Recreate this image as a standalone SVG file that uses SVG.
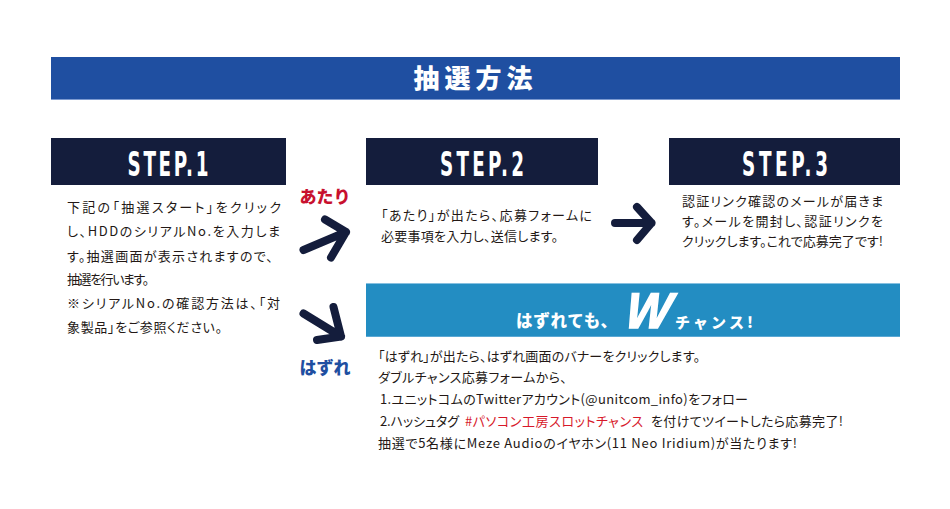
<svg xmlns="http://www.w3.org/2000/svg" width="950" height="509" viewBox="0 0 950 509">
<style>
.jp{font-family:"Noto Sans CJK JP","Noto Sans",sans-serif;}
.body{font-family:"Noto Sans CJK JP","Noto Sans",sans-serif;font-size:13px;fill:#231815;font-feature-settings:"palt";}
.step{fill:#141d3c;}
.steptxt{font-family:"DejaVu Sans Condensed","DejaVu Sans",sans-serif;font-weight:bold;font-size:34px;fill:#ffffff;text-anchor:middle;}
.arrow{fill:none;stroke:#141d3c;stroke-width:8;stroke-linecap:round;stroke-linejoin:round;}
</style>
<rect width="950" height="509" fill="#ffffff"/>
<g id="title">
<rect x="51" y="57" width="849" height="43" fill="#1f4fa1"/>
<rect x="51" y="99" width="849" height="1" fill="#7d9ad0"/>
<text x="475.5" y="88" class="jp" font-size="26" font-weight="900" fill="#ffffff" text-anchor="middle" letter-spacing="5">抽選方法</text>
</g>
<g id="step1">
<rect class="step" x="51" y="138" width="235" height="47"/>
<text class="steptxt" transform="translate(168,176) scale(0.6,1)" textLength="135" lengthAdjust="spacing">STEP.1</text>
<text class="body" x="67" y="212" textLength="214" lengthAdjust="spacing">下記の「抽選スタート」をクリック</text>
<text class="body" x="67" y="236" textLength="213" lengthAdjust="spacing">し、HDDのシリアルNo.を入力しま</text>
<text class="body" x="67" y="261" textLength="206" lengthAdjust="spacing">す。抽選画面が表示されますので、</text>
<text class="body" x="67" y="284" textLength="82" lengthAdjust="spacing">抽選を行います。</text>
<text class="body" x="67" y="308" textLength="213" lengthAdjust="spacing">※シリアルNo.の確認方法は、「対</text>
<text class="body" x="67" y="332" textLength="155" lengthAdjust="spacing">象製品」をご参照ください。</text>
</g>
<g id="step2">
<rect class="step" x="366" y="138" width="232" height="47"/>
<text class="steptxt" transform="translate(482,176) scale(0.6,1)" textLength="140" lengthAdjust="spacing">STEP.2</text>
<text class="body" x="381" y="220" textLength="211" lengthAdjust="spacing">「あたり」が出たら、応募フォームに</text>
<text class="body" x="381" y="241" textLength="177" lengthAdjust="spacing">必要事項を入力し、送信します。</text>
</g>
<g id="step3">
<rect class="step" x="669" y="138" width="231" height="47"/>
<text class="steptxt" transform="translate(785,176) scale(0.6,1)" textLength="143" lengthAdjust="spacing">STEP.3</text>
<text class="body" x="682" y="206" textLength="201" lengthAdjust="spacing">認証リンク確認のメールが届きま</text>
<text class="body" x="682" y="226" textLength="201" lengthAdjust="spacing">す。メールを開封し、認証リンクを</text>
<text class="body" x="682" y="246" textLength="201" lengthAdjust="spacing">クリックします。これで応募完了です!</text>
</g>
<g id="label-atari">
<text x="325" y="203" class="jp" font-size="17" font-weight="900" fill="#c8102e" text-anchor="middle">あたり</text>
</g>
<g id="label-hazure">
<text x="325" y="374" class="jp" font-size="17" font-weight="900" fill="#1f4fa1" text-anchor="middle">はずれ</text>
</g>
<g id="wchance">
<rect x="366" y="283" width="534" height="54" fill="#238dc2"/>
<rect x="366" y="283" width="534" height="1" fill="#86c0e0"/>
<rect x="366" y="336" width="534" height="1" fill="#5aa8d4"/>
<text x="516" y="327" class="jp" font-size="16.5" font-weight="900" fill="#ffffff" textLength="101" lengthAdjust="spacing">はずれても、</text>
<text transform="translate(624,328) skewX(-8)" font-family="'Liberation Sans',Arial,sans-serif" font-size="50" font-weight="900" font-style="italic" fill="#ffffff" stroke="#ffffff" stroke-width="1.5" textLength="45" lengthAdjust="spacingAndGlyphs">W</text>
<text x="675" y="328" class="jp" font-size="15" font-weight="900" fill="#ffffff" textLength="78" lengthAdjust="spacing">チャンス!</text>
</g>
<g id="hazure-text">
<text class="body" x="378" y="361" textLength="322" lengthAdjust="spacing">「はずれ」が出たら、はずれ画面のバナーをクリックします。</text>
<text class="body" x="378" y="382" textLength="189" lengthAdjust="spacing">ダブルチャンス応募フォームから、</text>
<text class="body" x="380" y="404" textLength="368" lengthAdjust="spacing">1.ユニットコムのTwitterアカウント(@unitcom_info)をフォロー</text>
<text class="body" x="380" y="426" textLength="79" lengthAdjust="spacing">2.ハッシュタグ</text>
<text class="body" x="465" y="426" style="fill:#d7182a" textLength="178" lengthAdjust="spacing">#パソコン工房スロットチャンス</text>
<text class="body" x="651" y="426" textLength="192" lengthAdjust="spacing">を付けてツイートしたら応募完了!</text>
<text class="body" x="378" y="448" textLength="419" lengthAdjust="spacing">抽選で5名様にMeze Audioのイヤホン(11 Neo Iridium)が当たります!</text>
</g>
<g id="connectors">
<path class="arrow" d="M303.5,250 L346,232 M325,219.5 L346,232 L331,257.5"/>
<path class="arrow" d="M303.5,313.5 L341,336.5 M333.5,307 L341,336.5 L317,340"/>
<path class="arrow" d="M615,223 L651.5,223 M637,207 L651.5,223 L637,240"/>
</g>
</svg>
